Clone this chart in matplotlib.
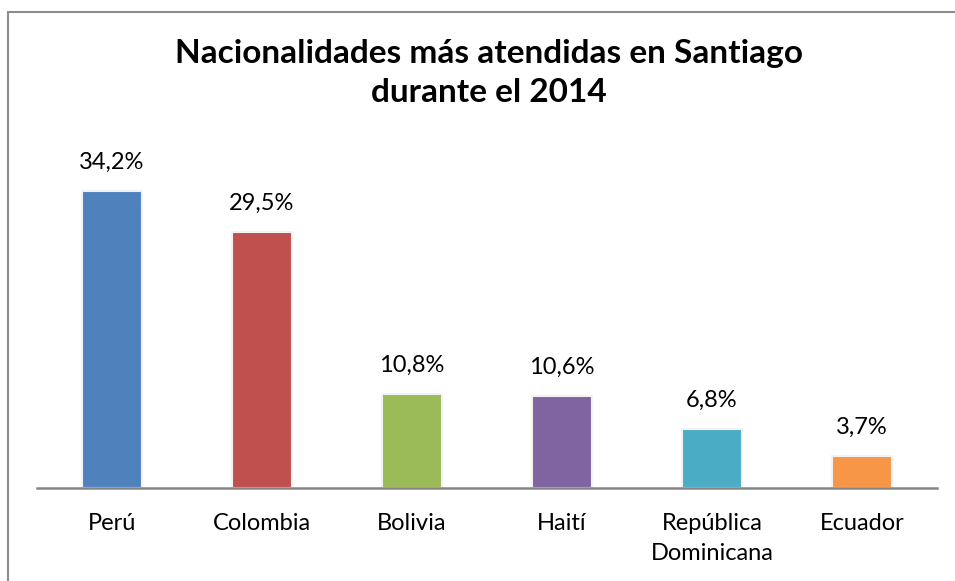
import matplotlib.pyplot as plt
from matplotlib.patches import Rectangle

categories = ['Perú', 'Colombia', 'Bolivia', 'Haití', 'República\nDominicana', 'Ecuador']
values = [34.2, 29.5, 10.8, 10.6, 6.8, 3.7]
labels = ['34,2%', '29,5%', '10,8%', '10,6%', '6,8%', '3,7%']
colors = ['#4F81BD', '#C0504D', '#9BBB59', '#8064A2', '#4BACC6', '#F79646']

plt.rcParams['font.family'] = ['Lato', 'DejaVu Sans']

fig = plt.figure(figsize=(9.55, 5.81), dpi=100)
# chart border (only top/left visible in the crop)
fig.patches.append(Rectangle((8 / 955, -0.1), 1.2, (581 - 12) / 581 + 0.1,
                             transform=fig.transFigure, fill=False,
                             edgecolor='#8c8c8c', linewidth=1.5))

ax = fig.add_axes([37 / 955, (581 - 488) / 581, 900 / 955, 340 / 581])
x = range(len(categories))
ax.bar(x, values, width=0.4, color=colors, edgecolor='#f2f2f2', linewidth=1.5)
for i, v in enumerate(values):
    ax.text(i, v + 2.1, labels[i], ha='center', va='bottom', fontsize=17)

ax.set_xlim(-0.5, len(categories) - 0.5)
ax.set_ylim(0, 340 / 8.68)
ax.set_yticks([])
ax.set_xticks(list(x))
ax.set_xticklabels(categories, fontsize=17, linespacing=1.55)
ax.tick_params(axis='x', length=0, pad=18)
for s in ['top', 'right', 'left']:
    ax.spines[s].set_visible(False)
ax.spines['bottom'].set_color('#868686')
ax.spines['bottom'].set_linewidth(1.8)

fig.text(489 / 955, 1 - 73 / 581, 'Nacionalidades más atendidas en Santiago\ndurante el 2014',
         ha='center', va='center', fontsize=24, fontweight='bold', linespacing=1.38)

plt.savefig('out.png', dpi=100)
